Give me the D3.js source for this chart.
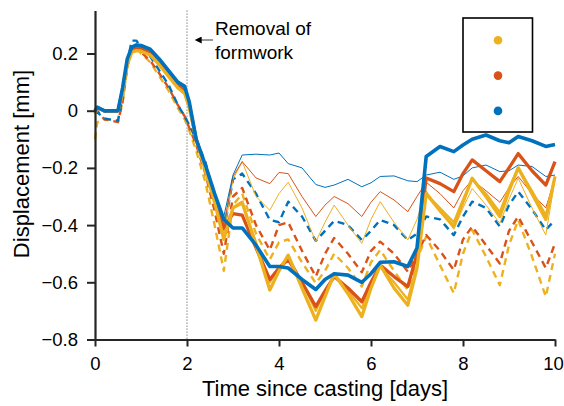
<!DOCTYPE html>
<html><head><meta charset="utf-8">
<script src="https://cdn.jsdelivr.net/npm/d3@7"></script>
<style>
html,body{margin:0;padding:0;background:#fff;}
svg{display:block;font-family:"Liberation Sans",Arial,Helvetica,sans-serif;}
</style></head>
<body><svg id="c" width="564" height="406"></svg>
<script>
const days = [0,0.05,0.2,0.5,0.6,0.7,0.8,0.9,1.0,1.2,1.4,1.6,1.8,1.95,2.05,2.2,2.4,2.6,2.8,3.0,3.2,3.5,3.8,4.0,4.2,4.5,4.8,5.0,5.2,5.5,5.8,6.0,6.2,6.5,6.8,7.0,7.2,7.5,7.8,8.0,8.2,8.5,8.8,9.0,9.2,9.5,9.8,10.0];

const yellowDashed = [-0.10,-0.04,-0.03,-0.035,0.03,0.15,0.225,0.22,0.20,0.17,0.12,0.07,0.01,-0.03,-0.07,-0.14,-0.25,-0.40,-0.56,-0.33,-0.29,-0.43,-0.52,-0.46,-0.45,-0.53,-0.603,-0.56,-0.50,-0.55,-0.615,-0.53,-0.487,-0.56,-0.627,-0.52,-0.44,-0.54,-0.638,-0.50,-0.417,-0.51,-0.61,-0.47,-0.382,-0.51,-0.65,-0.50];
const redDashed = [0.01,0.0,-0.03,-0.04,0.03,0.15,0.225,0.225,0.205,0.175,0.13,0.08,0.02,-0.02,-0.06,-0.12,-0.22,-0.35,-0.50,-0.30,-0.27,-0.40,-0.487,-0.40,-0.39,-0.49,-0.58,-0.50,-0.445,-0.50,-0.565,-0.49,-0.458,-0.50,-0.563,-0.50,-0.435,-0.49,-0.557,-0.45,-0.405,-0.47,-0.534,-0.42,-0.37,-0.46,-0.55,-0.464];
const blueDashed = [-0.01,-0.005,-0.027,-0.035,0.05,0.17,0.245,0.245,0.22,0.19,0.14,0.09,0.02,-0.02,-0.05,-0.10,-0.18,-0.30,-0.42,-0.24,-0.22,-0.29,-0.382,-0.39,-0.318,-0.37,-0.455,-0.42,-0.385,-0.40,-0.452,-0.42,-0.382,-0.40,-0.452,-0.43,-0.37,-0.38,-0.435,-0.37,-0.318,-0.34,-0.405,-0.33,-0.283,-0.345,-0.417,-0.382];

const yellowThin = [0.0,0.01,-0.005,-0.005,0.06,0.16,0.205,0.212,0.21,0.195,0.16,0.12,0.08,0.06,0.0,-0.10,-0.21,-0.31,-0.43,-0.24,-0.178,-0.30,-0.348,-0.29,-0.25,-0.34,-0.458,-0.39,-0.33,-0.40,-0.464,-0.38,-0.318,-0.39,-0.452,-0.38,-0.28,-0.35,-0.415,-0.34,-0.272,-0.33,-0.394,-0.31,-0.236,-0.34,-0.435,-0.24];
const redThin = [0.0,0.01,-0.005,-0.005,0.065,0.165,0.21,0.217,0.215,0.2,0.165,0.125,0.085,0.065,0.005,-0.10,-0.20,-0.30,-0.40,-0.23,-0.178,-0.235,-0.255,-0.216,-0.22,-0.30,-0.37,-0.33,-0.30,-0.325,-0.37,-0.32,-0.283,-0.312,-0.353,-0.30,-0.25,-0.29,-0.34,-0.28,-0.242,-0.28,-0.32,-0.27,-0.23,-0.29,-0.34,-0.236];
const blueThin = [0.0,0.01,-0.005,-0.005,0.07,0.17,0.215,0.222,0.22,0.205,0.17,0.13,0.09,0.07,0.01,-0.10,-0.19,-0.29,-0.37,-0.225,-0.155,-0.152,-0.155,-0.148,-0.185,-0.20,-0.258,-0.268,-0.26,-0.24,-0.266,-0.252,-0.23,-0.228,-0.245,-0.248,-0.225,-0.215,-0.24,-0.228,-0.20,-0.19,-0.213,-0.21,-0.19,-0.195,-0.23,-0.225];

const yellowMid = [-0.01,0.01,0.0,0.0,0.06,0.16,0.205,0.21,0.208,0.195,0.16,0.12,0.08,0.06,0.01,-0.10,-0.21,-0.32,-0.44,-0.34,-0.325,-0.46,-0.60,-0.55,-0.51,-0.60,-0.70,-0.63,-0.575,-0.63,-0.69,-0.61,-0.545,-0.60,-0.66,-0.54,-0.29,-0.34,-0.39,-0.31,-0.24,-0.29,-0.355,-0.27,-0.20,-0.28,-0.365,-0.23];
const yellowThick = [-0.01,0.01,0.0,0.0,0.06,0.16,0.205,0.21,0.208,0.195,0.16,0.12,0.08,0.06,0.01,-0.10,-0.21,-0.32,-0.45,-0.34,-0.32,-0.47,-0.627,-0.56,-0.505,-0.62,-0.732,-0.65,-0.57,-0.64,-0.72,-0.62,-0.54,-0.62,-0.68,-0.55,-0.29,-0.35,-0.405,-0.32,-0.236,-0.30,-0.37,-0.28,-0.20,-0.29,-0.38,-0.23];
const redThick = [0.0,0.012,0.0,0.0,0.07,0.17,0.212,0.218,0.215,0.205,0.17,0.13,0.09,0.07,0.02,-0.10,-0.20,-0.30,-0.41,-0.36,-0.365,-0.48,-0.59,-0.55,-0.52,-0.60,-0.685,-0.63,-0.58,-0.62,-0.668,-0.60,-0.54,-0.58,-0.615,-0.50,-0.235,-0.255,-0.283,-0.22,-0.172,-0.21,-0.248,-0.20,-0.15,-0.21,-0.26,-0.178];
const blueThick = [0.0,0.012,0.0,0.0,0.08,0.18,0.222,0.23,0.228,0.215,0.18,0.14,0.10,0.085,0.03,-0.10,-0.19,-0.29,-0.38,-0.41,-0.41,-0.47,-0.545,-0.545,-0.55,-0.59,-0.625,-0.59,-0.57,-0.575,-0.60,-0.57,-0.53,-0.528,-0.545,-0.48,-0.16,-0.125,-0.143,-0.12,-0.10,-0.085,-0.105,-0.112,-0.09,-0.105,-0.125,-0.118];

const xTicks = [0,2,4,6,8,10];
const yTicks = [0.2,0,-0.2,-0.4,-0.6,-0.8];
const legendColors = ["#EDB120","#D95319","#0072BD"];

const C = {blue:"#0072BD", red:"#D95319", yellow:"#EDB120"};
const series = [
  {v:yellowDashed, c:C.yellow, w:2.4, dash:"7,5"},
  {v:redDashed, c:C.red, w:2.4, dash:"7,5"},
  {v:blueDashed, c:C.blue, w:2.4, dash:"7,5"},
  {v:yellowThin, c:C.yellow, w:1, dash:null},
  {v:redThin, c:C.red, w:1, dash:null},
  {v:blueThin, c:C.blue, w:1, dash:null},
  {v:yellowMid, c:C.yellow, w:2.2, dash:null},
  {v:redThick, c:C.red, w:3.3, dash:null},
  {v:yellowThick, c:C.yellow, w:3.3, dash:null},
  {v:blueThick, c:C.blue, w:3.6, dash:null}
];

const svg = d3.select("#c");
const x = d3.scaleLinear().domain([0,10]).range([95,555]);
const y = d3.scaleLinear().domain([-0.8,0.35]).range([339.5,10.6]);

svg.append("line").attr("x1",x(2)).attr("x2",x(2)).attr("y1",y(0.35)).attr("y2",y(-0.8))
  .attr("stroke","#444").attr("stroke-width",1).attr("stroke-dasharray","1,2");

const line = d3.line().x((d,i)=>x(days[i])).y(d=>y(d));
series.forEach(s=>{
  svg.append("path").attr("d",line(s.v)).attr("fill","none")
    .attr("stroke",s.c).attr("stroke-width",s.w)
    .attr("stroke-linejoin","round")
    .attr("stroke-dasharray",s.dash);
});

const fmtY = d=> d===0 ? "0" : (d<0 ? "\u2212" : "") + d3.format(".1f")(Math.abs(d));
const ax = svg.append("g").attr("transform",`translate(0,${y(-0.8)})`)
  .call(d3.axisBottom(x).tickValues(xTicks).tickFormat(d3.format("d")).tickSizeInner(7).tickSizeOuter(0));
const ay = svg.append("g").attr("transform",`translate(${x(0)},0)`)
  .call(d3.axisLeft(y).tickValues(yTicks).tickFormat(fmtY).tickSizeInner(8).tickSizeOuter(0));
[ax,ay].forEach(g=>{
  g.select(".domain").attr("stroke","#262626").attr("stroke-width",2.2);
  g.selectAll(".tick line").attr("stroke","#262626").attr("stroke-width",2);
  g.selectAll(".tick text").attr("fill","#000").style("font-size","18.5px");
});
ax.selectAll(".tick text").attr("dy","0").attr("y",30)
  .attr("x",d=> d===10 ? -2 : 0);
ay.selectAll(".tick text").attr("x",-17);

svg.append("text").attr("x",x(5)).attr("y",396).attr("text-anchor","middle")
  .style("font-size","22px").text("Time since casting [days]");
svg.append("text").attr("transform","translate(29,164) rotate(-90)").attr("text-anchor","middle")
  .style("font-size","22px").text("Displacement [mm]");

svg.append("defs").append("marker").attr("id","ah").attr("viewBox","0 0 10 10")
  .attr("refX",1).attr("refY",5).attr("markerWidth",9).attr("markerHeight",7)
  .attr("orient","auto-start-reverse").attr("markerUnits","userSpaceOnUse")
  .append("path").attr("d","M0,0 L10,5 L0,10 Z").attr("fill","#000");
svg.append("line").attr("x1",213).attr("x2",201).attr("y1",40).attr("y2",40)
  .attr("stroke","#333").attr("stroke-width",1).attr("marker-end","url(#ah)");
const ann = svg.append("text").style("font-size","19px");
ann.append("tspan").attr("x",215).attr("y",35).text("Removal of");
ann.append("tspan").attr("x",215).attr("y",59).text("formwork");

svg.append("rect").attr("x",463).attr("y",18).attr("width",69.5).attr("height",114)
  .attr("fill","#fff").attr("stroke","#000").attr("stroke-width",1.6);
legendColors.forEach((c,i)=>{
  svg.append("circle").attr("cx",498).attr("cy",40.3+i*35.3).attr("r",4.3).attr("fill",c);
});
</script></body></html>
